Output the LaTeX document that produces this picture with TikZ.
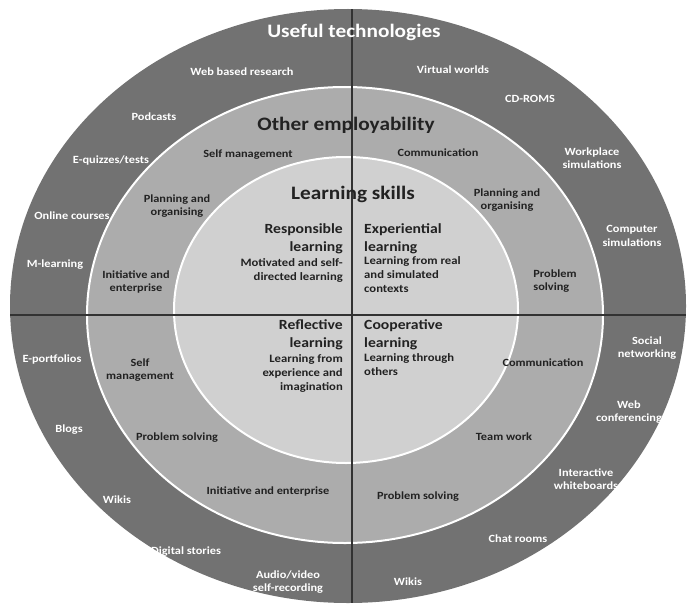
\documentclass[tikz,border=0pt]{standalone}
\usepackage{fontspec}
\setmainfont[FakeStretch=1.12]{Carlito}
\definecolor{outerg}{RGB}{114,114,114}
\definecolor{midg}{RGB}{172,172,172}
\definecolor{inng}{RGB}{208,208,208}
\definecolor{ink}{RGB}{34,34,34}
\definecolor{divline}{RGB}{50,50,50}
\tikzset{
  lbl/.style={inner sep=0pt, align=center, font=\bfseries\fontsize{11}{13.5}\selectfont},
  wl/.style={lbl, text=white},
  dl/.style={lbl, text=ink},
  bigh/.style={inner sep=0pt, font=\bfseries\fontsize{19}{21}\selectfont},
  subh/.style={inner sep=0pt, text=ink, font=\bfseries\fontsize{14}{18}\selectfont},
  body/.style={inner sep=0pt, text=ink, font=\bfseries\fontsize{11.3}{14}\selectfont},
  ring/.style={draw=white, line width=2pt}
}
\begin{document}
\begin{tikzpicture}[x=1pt,y=-1pt]
\useasboundingbox (0,0) rectangle (695,607);
% rings
\fill[outerg] (348,306) ellipse [x radius=338pt, y radius=297pt];
\filldraw[fill=midg, ring] (345,315) ellipse [x radius=258pt, y radius=228pt];
\filldraw[fill=inng, ring] (346,310) ellipse [x radius=172pt, y radius=153pt];
% dividing lines
\begin{scope}
  \clip (348,306) ellipse [x radius=338pt, y radius=297pt];
  \draw[divline, line width=1.3pt] (352,0) -- (352,607);
  \draw[divline, line width=1.3pt] (0,315) -- (695,315);
\end{scope}
% outer ring
\node[bigh, text=white] (ut) at (354,32) {Useful technologies};
\node[wl] (t1) at (242,72) {Web based research};
\node[wl] (t2) at (453,70) {Virtual worlds};
\node[wl] (t3) at (530,99) {CD-ROMS};
\node[wl] (t4) at (154,117) {Podcasts};
\node[wl] (t5) at (111,161) {E-quizzes/tests};
\node[wl] (t6) at (592,158) {Workplace\\simulations};
\node[wl] (t7) at (72,216) {Online courses};
\node[wl] (t8) at (55,265) {M-learning};
\node[wl] (t9) at (632,236) {Computer\\simulations};
\node[wl] (t10) at (52,360) {E-portfolios};
\node[wl] (t11) at (647,348) {Social\\networking};
\node[wl] (t12) at (69,430) {Blogs};
\node[wl] (t13) at (629,412) {Web\\conferencing};
\node[wl] (t14) at (117,500) {Wikis};
\node[wl] (t15) at (586,479) {Interactive\\whiteboards};
\node[wl] (t16) at (186,552) {Digital stories};
\node[wl] (t17) at (518,539) {Chat rooms};
\node[wl] (t18) at (288,582) {Audio/video\\self-recording};
\node[wl] (t19) at (408,582) {Wikis};
% middle ring
\node[bigh, text=ink] (oe) at (346,125) {Other employability};
\node[dl] (m1) at (248,155) {Self management};
\node[dl] (m2) at (438,153) {Communication};
\node[dl] (m3) at (177,206) {Planning and\\organising};
\node[dl] (m4) at (507,200) {Planning and\\organising};
\node[dl] (m5) at (136,282) {Initiative and\\enterprise};
\node[dl, align=left] (m6) at (555,281) {Problem\\solving};
\node[dl] (m7) at (140,370) {Self\\management};
\node[dl] (m8) at (543,363) {Communication};
\node[dl] (m9) at (177,438) {Problem solving};
\node[dl] (m10) at (504,437) {Team work};
\node[dl] (m11) at (268,491) {Initiative and enterprise};
\node[dl] (m12) at (418,497) {Problem solving};
% inner
\node[bigh, text=ink] (ls) at (353,194) {Learning skills};
\node[subh, align=right, anchor=east] (r1) at (343,239) {Responsible\\learning};
\node[body, align=right, anchor=east] (r2) at (343,270) {Motivated and self-\\directed learning};
\node[subh, align=left, anchor=west] (e1) at (364,239) {Experiential\\learning};
\node[body, align=left, anchor=west] (e2) at (364,275) {Learning from real\\and simulated\\contexts};
\node[subh, align=right, anchor=east] (f1) at (343,335) {Reflective\\learning};
\node[body, align=right, anchor=east] (f2) at (343,373) {Learning from\\experience and\\imagination};
\node[subh, align=left, anchor=west] (c1) at (364,335) {Cooperative\\learning};
\node[body, align=left, anchor=west] (c2) at (364,365) {Learning through\\others};
\end{tikzpicture}
\end{document}
